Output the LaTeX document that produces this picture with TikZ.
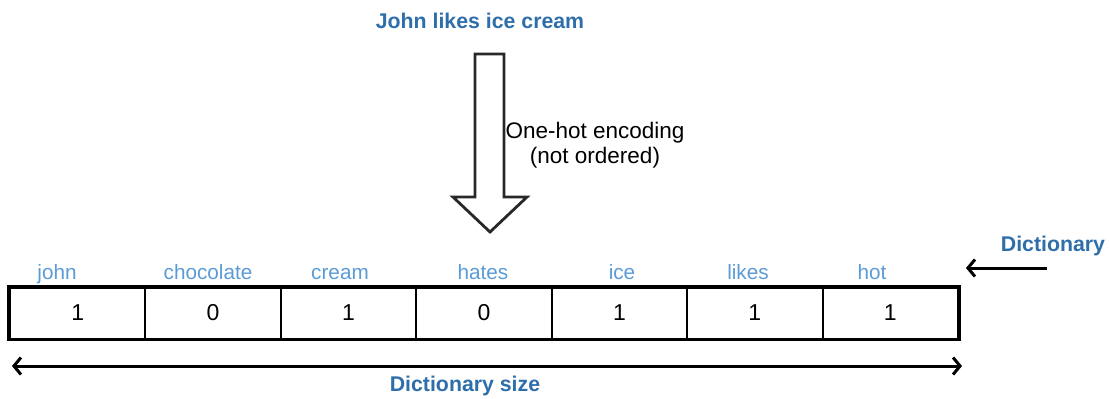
\documentclass[tikz,border=0pt]{standalone}
\usepackage{fontspec}
\setmainfont{Liberation Sans}
\usetikzlibrary{arrows.meta}
\definecolor{titleblue}{RGB}{46,110,170}
\definecolor{wordblue}{RGB}{91,155,213}
\definecolor{edgegray}{RGB}{40,40,40}
\begin{document}
\begin{tikzpicture}[x=1pt,y=-1pt,
  heading/.style={font=\fontsize{21.3}{25}\selectfont\bfseries, text=titleblue, inner sep=0pt},
  word/.style={font=\fontsize{20.7}{24}\selectfont, text=wordblue, inner sep=0pt, anchor=base},
  cell/.style={draw=black, line width=2pt, minimum width=135.43pt, minimum height=51pt,
    inner sep=0pt, font=\fontsize{23}{27}\selectfont},
  note/.style={font=\fontsize{22.5}{25}\selectfont, align=center, inner sep=0pt},
  barb/.tip={Straight Barb[length=7pt,width=17pt,line width=3pt]},
  thinarrow/.style={line width=3pt, -barb}
]
\useasboundingbox (0,0) rectangle (1109,399);

% sentence and block arrow
\node[heading] (sentence) at (480,21) {John likes ice cream};
\draw[edgegray, line width=2.8pt, line join=miter, fill=white]
  (475,54) -- (504,54) -- (504,197) -- (527,197) -- (490,232) -- (453,197) -- (475,197) -- cycle;
\node[note] (enc) at (595,145) {One-hot encoding\\(not ordered)};

% one-hot vector cells
\foreach \v [count=\i from 0] in {1,0,1,0,1,1,1}
  \node[cell] (c\i) at ({10+67.71+\i*135.43},313) {\v};
\draw[line width=3pt] (c0.north west) rectangle (c6.south east);

% dictionary words above the cells
\foreach \w/\x [count=\i from 0] in {john/57,chocolate/208,cream/340,hates/483,ice/622,likes/748,hot/872}
  \node[word] (w\i) at (\x,279) {\w};

% dictionary pointer
\node[heading] (dict) at (1053,246) {Dictionary};
\coordinate (dstart) at (1047,268);
\coordinate (dend) at (966,268);
\draw[thinarrow] (dstart) -- (dend);

% size span
\coordinate (sl) at (12,366);
\coordinate (sr) at (962,366);
\draw[line width=3pt, barb-barb] (sl) -- (sr);
\node[heading] (size) at (465,386) {Dictionary size};
\end{tikzpicture}
\end{document}
